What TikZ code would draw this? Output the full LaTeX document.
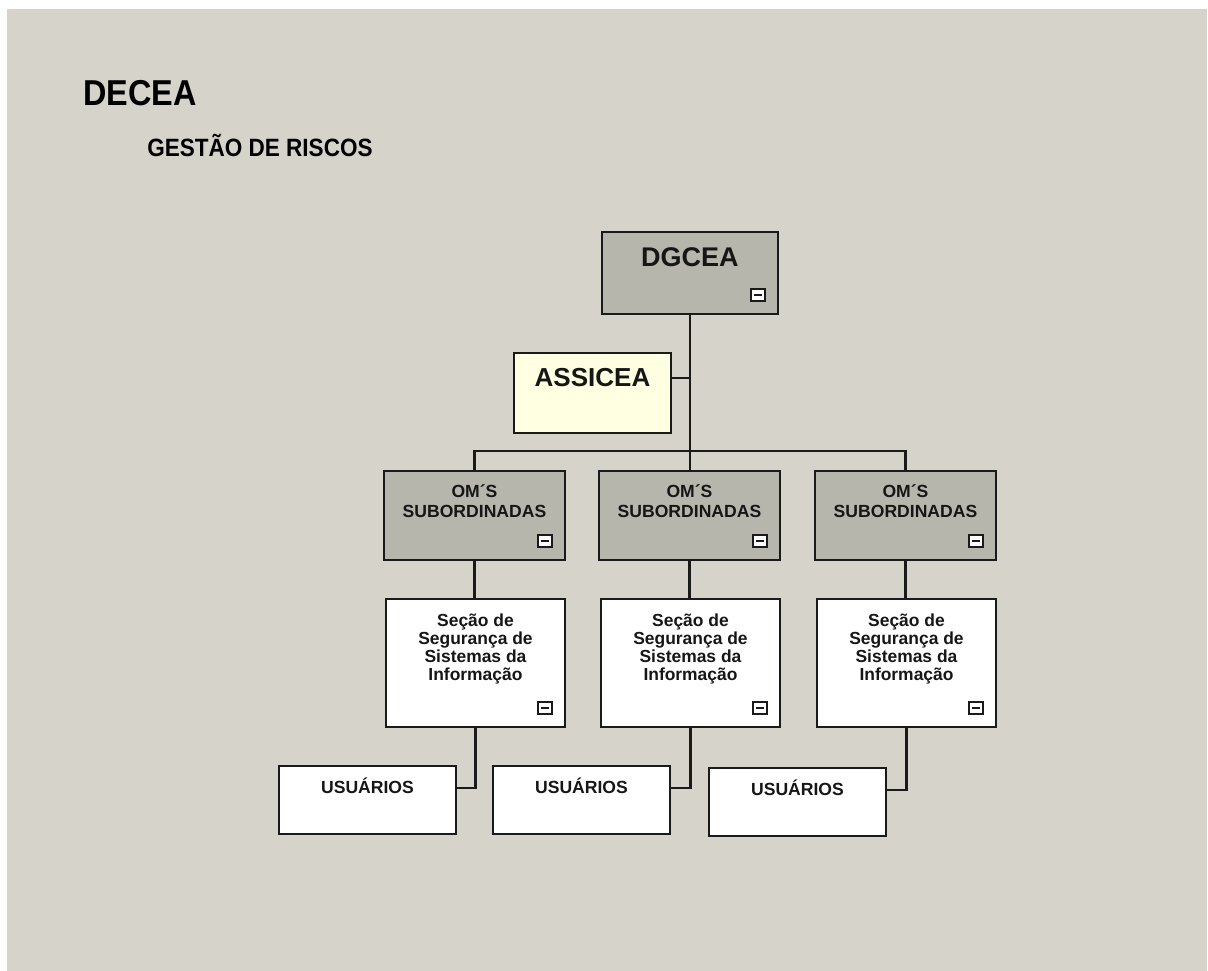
\documentclass[tikz,border=0pt]{standalone}
\usepackage{fontspec}
\setmainfont{Liberation Sans}
\newfontfamily\headfont[FakeStretch=0.9]{Liberation Sans}
\usetikzlibrary{calc}

\def\pix{0.025cm}
\definecolor{bgcol}{RGB}{214,211,203}
\definecolor{omgray}{RGB}{182,182,172}
\definecolor{assyellow}{RGB}{255,255,225}
\definecolor{linecol}{RGB}{26,26,26}
\definecolor{txtcol}{RGB}{22,22,22}

\begin{document}
\begin{tikzpicture}[x=0.025cm, y=-0.025cm,
box_style/.style={rectangle, draw=linecol, line width=1.4pt, anchor=north west, inner sep=0pt},
om_style/.style={box_style, fill=omgray, minimum width=181*\pix, minimum height=89*\pix},
sec_style/.style={box_style, fill=white, minimum width=179*\pix, minimum height=128*\pix},
usr_style/.style={box_style, fill=white, minimum width=177*\pix, minimum height=68*\pix},
edge_style/.style={line width=1.5pt, draw=linecol},
txt_style/.style={anchor=base, inner sep=0pt, text=txtcol, align=center},
		]

\useasboundingbox (0,0) rectangle (1208,971);
\fill[white] (0,0) rectangle (1208,971);
\fill[bgcol] (7,9) rectangle (1207,971);

% titles
\node[anchor=base west, inner sep=0pt, font=\headfont\bfseries\fontsize{25.6}{30}\selectfont] (decea) at (83,106) {DECEA};
\node[anchor=base west, inner sep=0pt, font=\headfont\bfseries\fontsize{17.8}{21}\selectfont] (gestao) at (147,157) {GESTÃO DE RISCOS};

% top of the chart
\node[box_style, fill=omgray, minimum width=176*\pix, minimum height=82*\pix] (dgcea) at (601,231) {};
\node[txt_style, font=\bfseries\fontsize{19.2}{22}\selectfont] (dgcea_t) at ($(dgcea.north)+(0,36)$) {DGCEA};

\node[box_style, fill=assyellow, minimum width=157*\pix, minimum height=80*\pix] (assicea) at (513,352) {};
\node[txt_style, font=\bfseries\fontsize{18.5}{22}\selectfont] (assicea_t) at ($(assicea.north)+(0,34)$) {ASSICEA};

% base anchor sits on the last line
\foreach\i/\ox/\sx/\ux/\uy in {1/383/385/278/765, 2/598/600/492/765, 3/814/816/708/767}{
	\node[om_style] (om\i) at (\ox,470) {};
	\node[txt_style, font=\bfseries\fontsize{12.5}{14.2}\selectfont] (om_t\i) at ($(om\i.north)+(0,47)$) {OM´S\\SUBORDINADAS};
	\node[sec_style] (sec\i) at (\sx,598) {};
	\node[txt_style, font=\bfseries\fontsize{12.4}{12.8}\selectfont] (sec_t\i) at ($(sec\i.north)+(0,82)$) {Seção de\\Segurança de\\Sistemas da\\Informação};
	\node[usr_style] (usr\i) at (\ux,\uy) {};
	\node[txt_style, font=\bfseries\fontsize{12.5}{14}\selectfont] (usr_t\i) at ($(usr\i.north)+(0,28)$) {USUÁRIOS};
	\draw[edge_style] (om\i.south) -- (om\i.south |- sec\i.north);
	\draw[edge_style] (sec\i.south) |- ($(usr\i.north east)+(0,23)$);
	}

% connectors
\coordinate (ass_link) at ($(assicea.north east)+(0,26)$);
\draw[edge_style] (dgcea.south) -- (dgcea.south |- om2.north);
\draw[edge_style] (ass_link) -- (ass_link -| dgcea.south);
\draw[edge_style] (om1.north) -- ++(0,-19) -| (om3.north);

% minus icons
\foreach\b in {dgcea, om1, om2, om3, sec1, sec2, sec3}{
	\draw[line width=1.6pt, draw=linecol, fill=white] ($(\b.south east)+(-28,-14)$) rectangle ++(14,-12);
	\draw[line width=1.6pt, draw=linecol] ($(\b.south east)+(-25,-20)$) -- ++(8,0);
	}

\end{tikzpicture}
\end{document}
